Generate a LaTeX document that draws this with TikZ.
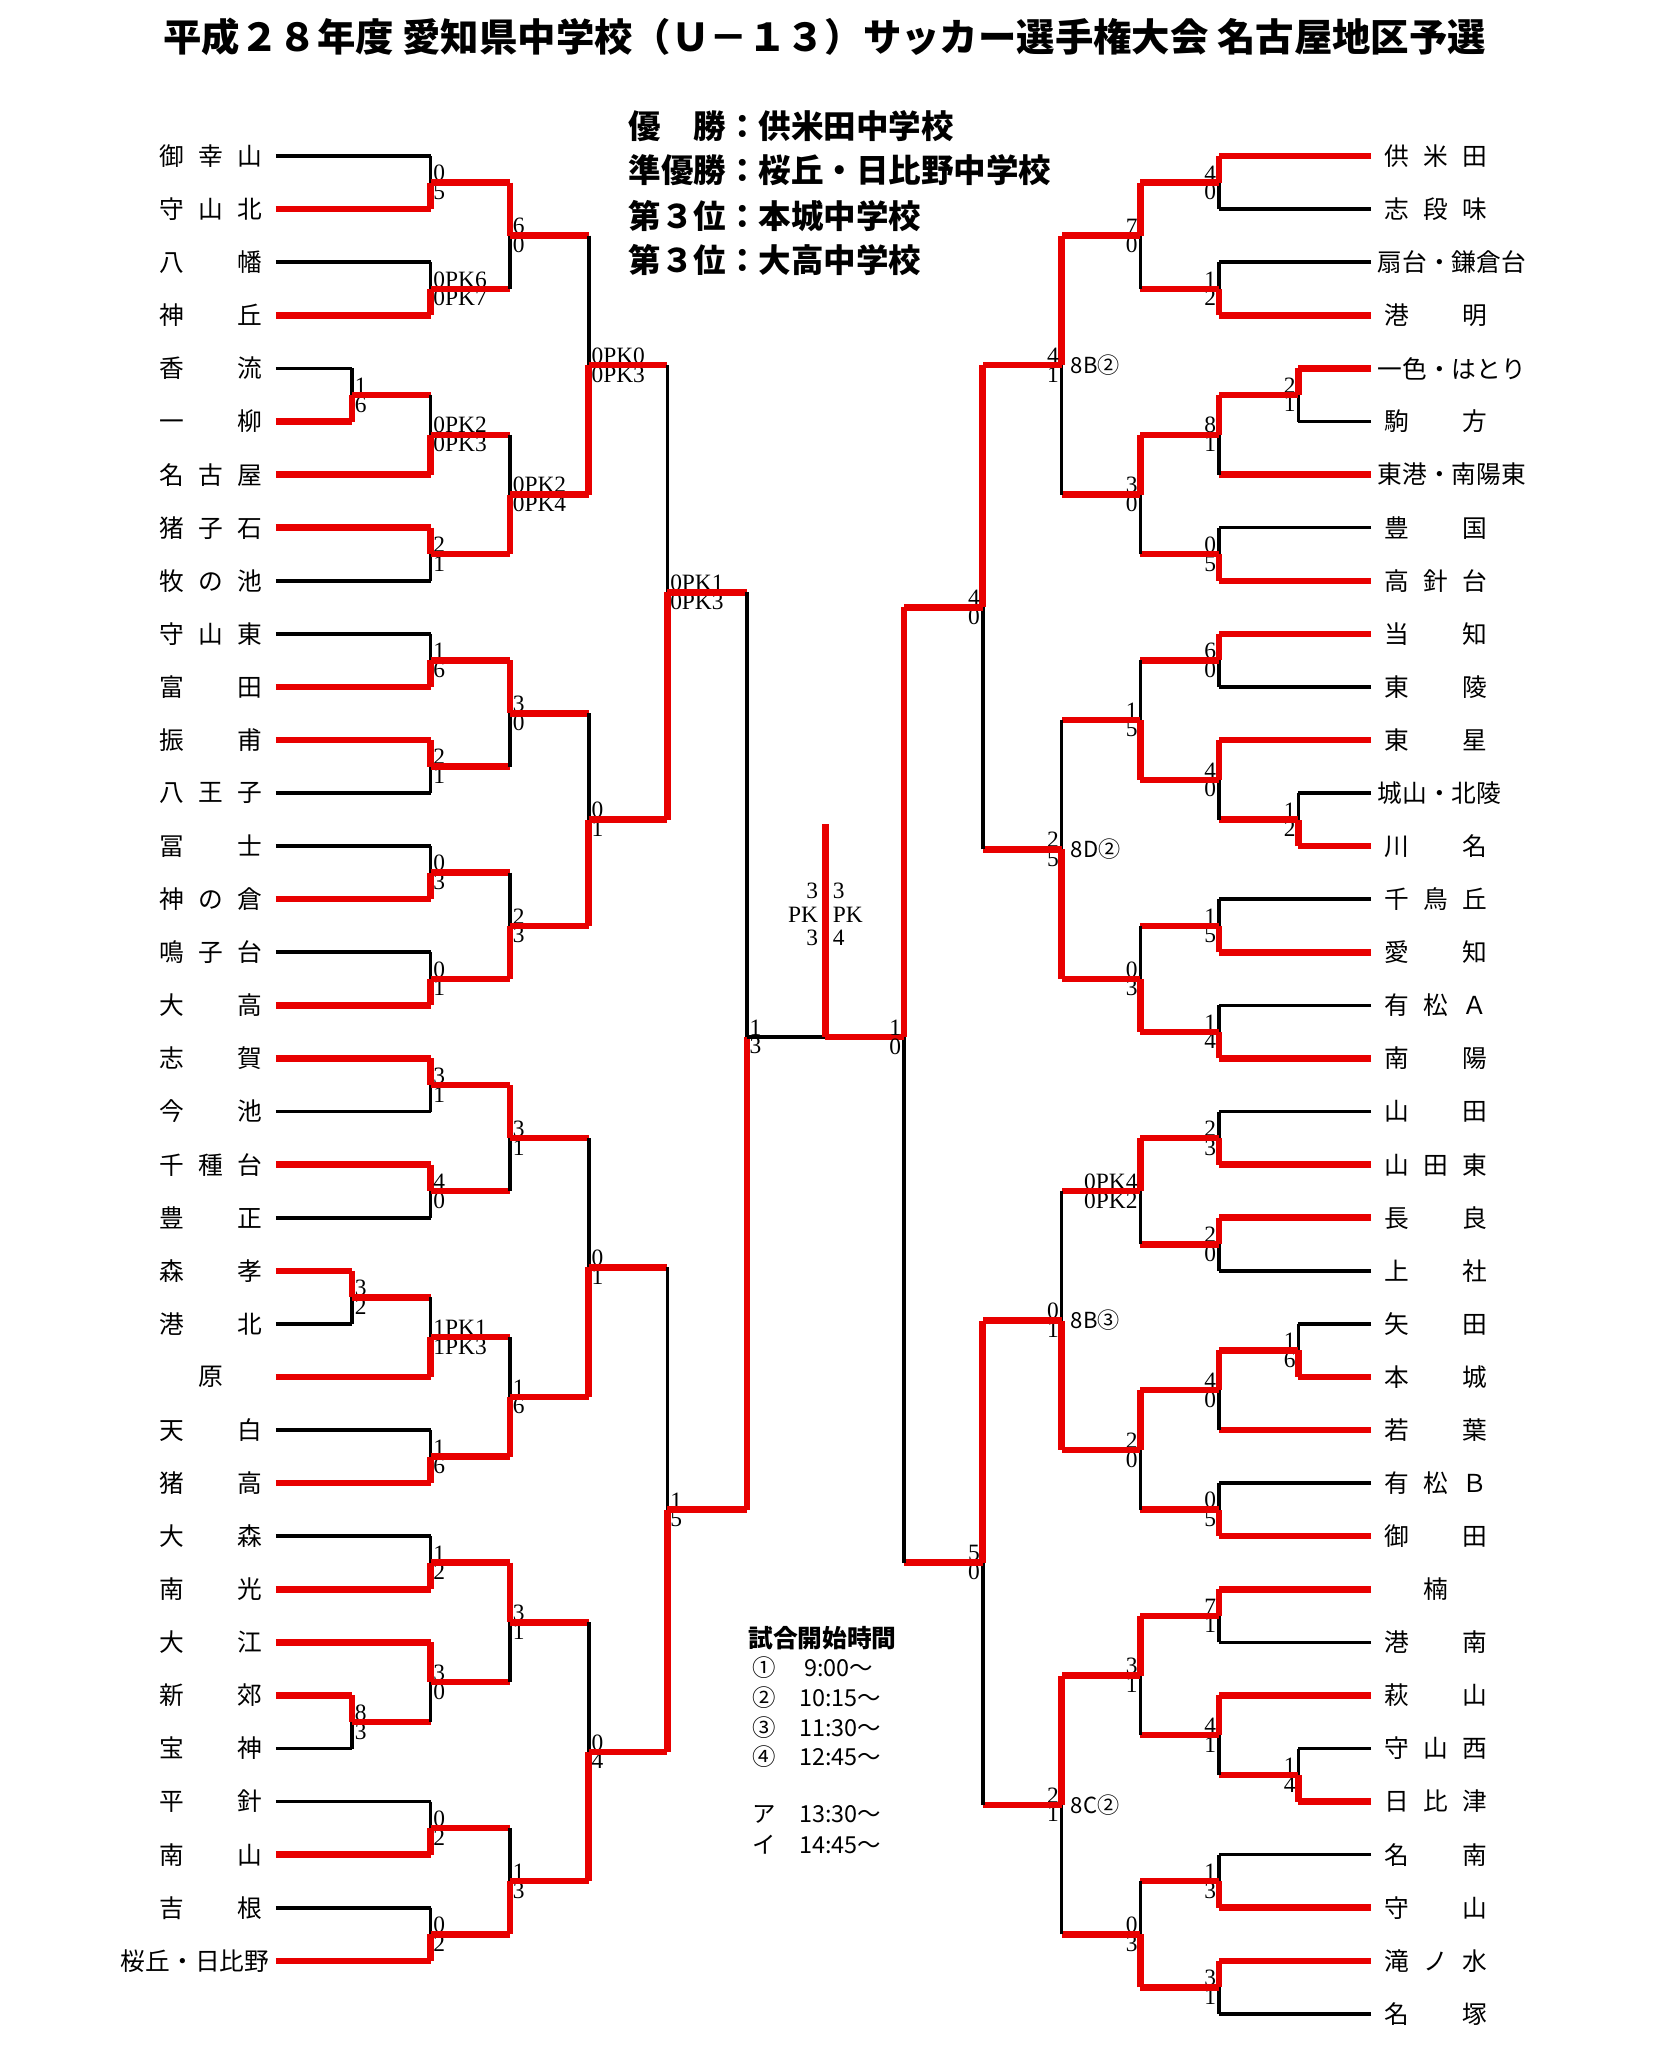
\documentclass[tikz,border=0pt]{standalone}
\usepackage{fontspec}
\setmainfont{Liberation Serif}
\newfontfamily\cjk{Noto Sans CJK JP}
\usetikzlibrary{calc}
\definecolor{wred}{RGB}{232,0,0}
\newcommand\tri[3]{\makebox[30pt]{#1}\makebox[30pt]{#2}\makebox[30pt]{#3}}
% one match: name, x, upper entry, lower entry, entry styles, winner side, scores
\newcommand\game[9]{%
  \draw[#5] (#3) -- (#3 -| #2,0);
  \draw[#6] (#4) -- (#4 -| #2,0);
  \coordinate (#1) at ($(#3 -| #2,0)!.5!(#4 -| #2,0)$);
  \draw[#7a] (#3 -| #2,0) -- (#1);
  \draw[#7b] (#4 -| #2,0) -- (#1);
  \node[sctop] at (#1) {#8};
  \node[scbot] at (#1) {#9};
}
\begin{document}
\begin{tikzpicture}[x=1pt,y=-1pt]
  \tikzset{
    wline/.style={draw=wred,line width=5pt,line cap=square},
    lline/.style={draw=black,line width=2.8pt,line cap=square},
    topa/.style={wline}, topb/.style={lline},
    bota/.style={lline}, botb/.style={wline},
    score/.style={inner sep=1pt,font=\fontsize{18}{18}\selectfont},
    sctop/.style={score,anchor=south west,xshift=1pt},
    scbot/.style={score,anchor=north west,xshift=1pt},
    lname/.style={inner sep=0pt,outer sep=5pt,anchor=east,font=\cjk\fontsize{19}{19}\selectfont},
    rname/.style={lname,anchor=west},
    tag/.style={inner sep=1pt,anchor=west,font=\cjk\fontsize{17}{17}\selectfont},
    head/.style={inner sep=0pt,anchor=west,font=\cjk\bfseries\fontsize{25}{25}\selectfont},
    note/.style={inner sep=0pt,anchor=west,font=\cjk\fontsize{18}{18}\selectfont}
  }
  \useasboundingbox[fill=white] (0,0) rectangle (1270,1575);

  \node[font=\cjk\bfseries\fontsize{29.5}{29.5}\selectfont] (title) at (634,28)
    {平成２８年度 愛知県中学校（Ｕ－１３）サッカー選手権大会 名古屋地区予選};
  \node[head] (win1) at (483,97) {優　勝：供米田中学校};
  \node[head] (win2) at (483,131) {準優勝：桜丘・日比野中学校};
  \node[head] (win3) at (483,166) {第３位：本城中学校};
  \node[head] (win4) at (483,200) {第３位：大高中学校};

  % teams
  \foreach \t [count=\i from 0] in {\tri{御}{幸}{山}, \tri{守}{山}{北}, \tri{八}{}{幡},
    \tri{神}{}{丘}, \tri{香}{}{流}, \tri{一}{}{柳}, \tri{名}{古}{屋}, \tri{猪}{子}{石},
    \tri{牧}{の}{池}, \tri{守}{山}{東}, \tri{富}{}{田}, \tri{振}{}{甫}, \tri{八}{王}{子},
    \tri{冨}{}{士}, \tri{神}{の}{倉}, \tri{鳴}{子}{台}, \tri{大}{}{高}, \tri{志}{}{賀},
    \tri{今}{}{池}, \tri{千}{種}{台}, \tri{豊}{}{正}, \tri{森}{}{孝}, \tri{港}{}{北},
    \tri{}{原}{}, \tri{天}{}{白}, \tri{猪}{}{高}, \tri{大}{}{森}, \tri{南}{}{光},
    \tri{大}{}{江}, \tri{新}{}{郊}, \tri{宝}{}{神}, \tri{平}{}{針}, \tri{南}{}{山},
    \tri{吉}{}{根}, 桜丘・日比野}
    \node[lname] (L\i) at (212,{120+40.8*\i}) {\t};
  \foreach \t [count=\i from 0] in {\tri{供}{米}{田}, \tri{志}{段}{味}, 扇台・鎌倉台,
    \tri{港}{}{明}, 一色・はとり, \tri{駒}{}{方}, 東港・南陽東, \tri{豊}{}{国},
    \tri{高}{針}{台}, \tri{当}{}{知}, \tri{東}{}{陵}, \tri{東}{}{星}, 城山・北陵,
    \tri{川}{}{名}, \tri{千}{鳥}{丘}, \tri{愛}{}{知}, \tri{有}{松}{Ａ}, \tri{南}{}{陽},
    \tri{山}{}{田}, \tri{山}{田}{東}, \tri{長}{}{良}, \tri{上}{}{社}, \tri{矢}{}{田},
    \tri{本}{}{城}, \tri{若}{}{葉}, \tri{有}{松}{Ｂ}, \tri{御}{}{田}, \tri{}{楠}{},
    \tri{港}{}{南}, \tri{萩}{}{山}, \tri{守}{山}{西}, \tri{日}{比}{津}, \tri{名}{}{南},
    \tri{守}{}{山}, \tri{滝}{ノ}{水}, \tri{名}{}{塚}}
    \node[rname] (R\i) at (1054,{120+40.8*\i}) {\t};

  % left half
  \game{a1}{331}{L0}{L1}{lline}{wline}{bot}{0}{5}
  \game{a2}{331}{L2}{L3}{lline}{wline}{bot}{0PK6}{0PK7}
  \game{a3}{392}{a1}{a2}{wline}{wline}{top}{6}{0}
  \game{p1}{270.6}{L4}{L5}{lline}{wline}{bot}{1}{6}
  \game{a4}{331}{p1}{L6}{wline}{wline}{bot}{0PK2}{0PK3}
  \game{a5}{331}{L7}{L8}{wline}{lline}{top}{2}{1}
  \game{a6}{392}{a4}{a5}{wline}{wline}{bot}{0PK2}{0PK4}
  \game{a7}{452.5}{a3}{a6}{wline}{wline}{bot}{0PK0}{0PK3}
  \game{a8}{331}{L9}{L10}{lline}{wline}{bot}{1}{6}
  \game{a9}{331}{L11}{L12}{wline}{lline}{top}{2}{1}
  \game{a10}{392}{a8}{a9}{wline}{wline}{top}{3}{0}
  \game{a11}{331}{L13}{L14}{lline}{wline}{bot}{0}{3}
  \game{a12}{331}{L15}{L16}{lline}{wline}{bot}{0}{1}
  \game{a13}{392}{a11}{a12}{wline}{wline}{bot}{2}{3}
  \game{a14}{452.5}{a10}{a13}{wline}{wline}{bot}{0}{1}
  \game{a15}{513}{a7}{a14}{wline}{wline}{bot}{0PK1}{0PK3}
  \game{b1}{331}{L17}{L18}{wline}{lline}{top}{3}{1}
  \game{b2}{331}{L19}{L20}{wline}{lline}{top}{4}{0}
  \game{b3}{392}{b1}{b2}{wline}{wline}{top}{3}{1}
  \game{p2}{270.6}{L21}{L22}{wline}{lline}{top}{3}{2}
  \game{b4}{331}{p2}{L23}{wline}{wline}{bot}{1PK1}{1PK3}
  \game{b5}{331}{L24}{L25}{lline}{wline}{bot}{1}{6}
  \game{b6}{392}{b4}{b5}{wline}{wline}{bot}{1}{6}
  \game{b7}{452.5}{b3}{b6}{wline}{wline}{bot}{0}{1}
  \game{b8}{331}{L26}{L27}{lline}{wline}{bot}{1}{2}
  \game{p3}{270.6}{L29}{L30}{wline}{lline}{top}{8}{3}
  \game{b9}{331}{L28}{p3}{wline}{wline}{top}{3}{0}
  \game{b10}{392}{b8}{b9}{wline}{wline}{top}{3}{1}
  \game{b11}{331}{L31}{L32}{lline}{wline}{bot}{0}{2}
  \game{b12}{331}{L33}{L34}{lline}{wline}{bot}{0}{2}
  \game{b13}{392}{b11}{b12}{wline}{wline}{bot}{1}{3}
  \game{b14}{452.5}{b10}{b13}{wline}{wline}{bot}{0}{4}
  \game{b15}{513}{b7}{b14}{wline}{wline}{bot}{1}{5}

  % right half
  \begin{scope}[sctop/.style={score,anchor=south east,xshift=-1pt},
                scbot/.style={score,anchor=north east,xshift=-1pt}]
    \game{c1}{937}{R0}{R1}{wline}{lline}{top}{4}{0}
    \game{c2}{937}{R2}{R3}{lline}{wline}{bot}{1}{2}
    \game{c3}{876.6}{c1}{c2}{wline}{wline}{top}{7}{0}
    \game{q1}{998}{R4}{R5}{wline}{lline}{top}{2}{1}
    \game{c4}{937}{q1}{R6}{wline}{wline}{top}{8}{1}
    \game{c5}{937}{R7}{R8}{lline}{wline}{bot}{0}{5}
    \game{c6}{876.6}{c4}{c5}{wline}{wline}{top}{3}{0}
    \game{c7}{816}{c3}{c6}{wline}{wline}{top}{4}{1}
    \game{c8}{937}{R9}{R10}{wline}{lline}{top}{6}{0}
    \game{q2}{998}{R12}{R13}{lline}{wline}{bot}{1}{2}
    \game{c9}{937}{R11}{q2}{wline}{wline}{top}{4}{0}
    \game{c10}{876.6}{c8}{c9}{wline}{wline}{bot}{1}{5}
    \game{c11}{937}{R14}{R15}{lline}{wline}{bot}{1}{5}
    \game{c12}{937}{R16}{R17}{lline}{wline}{bot}{1}{4}
    \game{c13}{876.6}{c11}{c12}{wline}{wline}{bot}{0}{3}
    \game{c14}{816}{c10}{c13}{wline}{wline}{bot}{2}{5}
    \game{c15}{755.4}{c7}{c14}{wline}{wline}{top}{4}{0}
    \game{d1}{937}{R18}{R19}{lline}{wline}{bot}{2}{3}
    \game{d2}{937}{R20}{R21}{wline}{lline}{top}{2}{0}
    \game{d3}{876.6}{d1}{d2}{wline}{wline}{top}{0PK4}{0PK2}
    \game{q3}{998}{R22}{R23}{lline}{wline}{bot}{1}{6}
    \game{d4}{937}{q3}{R24}{wline}{wline}{top}{4}{0}
    \game{d5}{937}{R25}{R26}{lline}{wline}{bot}{0}{5}
    \game{d6}{876.6}{d4}{d5}{wline}{wline}{top}{2}{0}
    \game{d7}{816}{d3}{d6}{wline}{wline}{bot}{0}{1}
    \game{e1}{937}{R27}{R28}{wline}{lline}{top}{7}{1}
    \game{q4}{998}{R30}{R31}{lline}{wline}{bot}{1}{4}
    \game{e2}{937}{R29}{q4}{wline}{wline}{top}{4}{1}
    \game{e3}{876.6}{e1}{e2}{wline}{wline}{top}{3}{1}
    \game{e4}{937}{R32}{R33}{lline}{wline}{bot}{1}{3}
    \game{e5}{937}{R34}{R35}{wline}{lline}{top}{3}{1}
    \game{e6}{876.6}{e4}{e5}{wline}{wline}{bot}{0}{3}
    \game{e7}{816}{e3}{e6}{wline}{wline}{top}{2}{1}
    \game{e8}{755.4}{d7}{e7}{wline}{wline}{top}{5}{0}
  \end{scope}
  \node[tag] at ($(c7)+(6,0)$) {8B②};
  \node[tag] at ($(c14)+(6,0)$) {8D②};
  \node[tag] at ($(d7)+(6,0)$) {8B③};
  \node[tag] at ($(e7)+(6,0)$) {8C②};

  % semifinals and final
  \coordinate (SL) at (574,797);
  \coordinate (F) at (634.4,797);
  \coordinate (SR) at (694.8,797);
  \coordinate (champ) at (634.4,633);
  \draw[wline] (a15) -- (a15 -| SL);
  \draw[wline] (b15) -- (b15 -| SL);
  \draw[lline] (a15 -| SL) -- (SL);
  \draw[wline] (b15 -| SL) -- (SL);
  \draw[wline] (c15) -- (c15 -| SR);
  \draw[wline] (e8) -- (e8 -| SR);
  \draw[wline] (c15 -| SR) -- (SR);
  \draw[lline] (e8 -| SR) -- (SR);
  \draw[lline] (SL) -- (F);
  \draw[wline] (F) -- (SR);
  \draw[wline] (F) -- (champ);
  \node[sctop] at (SL) {1};
  \node[scbot] at (SL) {3};
  \node[score,anchor=south east,xshift=-1pt] at (SR) {1};
  \node[score,anchor=north east,xshift=-1pt] at (SR) {0};
  \node[score,align=right,anchor=east] (pkl) at (630,703) {3\\PK\\3};
  \node[score,align=left,anchor=west] (pkr) at (639,703) {3\\PK\\4};

  % kick-off times
  \node[note,font=\cjk\bfseries\fontsize{19}{19}\selectfont] (kick) at (575,1259) {試合開始時間};
  \node[note] (t1) at (578,1282) {①　 9:00～};
  \node[note] (t2) at (578,1305) {②　10:15～};
  \node[note] (t3) at (578,1328) {③　11:30～};
  \node[note] (t4) at (578,1350) {④　12:45～};
  \node[note] (t5) at (578,1395) {ア　13:30～};
  \node[note] (t6) at (578,1418) {イ　14:45～};
\end{tikzpicture}
\end{document}
